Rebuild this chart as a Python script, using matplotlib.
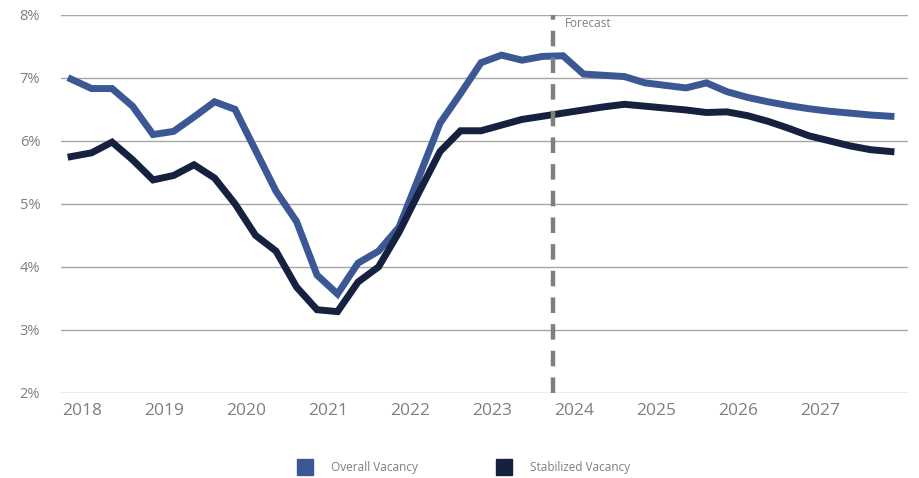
import numpy as np
import matplotlib.pyplot as plt
from matplotlib.lines import Line2D

# quarterly series, 2018 Q1 .. 2028 Q1
overall = [6.98, 6.83, 6.83, 6.55, 6.10, 6.15, 6.38, 6.62, 6.50, 5.85,
           5.20, 4.72, 3.87, 3.57, 4.06, 4.25, 4.63, 5.45, 6.28, 6.75,
           7.24, 7.36, 7.28, 7.34, 7.35, 7.06, 7.04, 7.02, 6.92, 6.88,
           6.84, 6.92, 6.78, 6.69, 6.62, 6.56, 6.51, 6.47, 6.44, 6.41, 6.39]
stabilized = [5.75, 5.81, 5.98, 5.70, 5.38, 5.45, 5.62, 5.41, 5.00, 4.50,
              4.25, 3.68, 3.32, 3.29, 3.76, 4.00, 4.55, 5.20, 5.83, 6.16,
              6.16, 6.25, 6.34, 6.39, 6.44, 6.49, 6.54, 6.58, 6.55, 6.52,
              6.49, 6.45, 6.46, 6.40, 6.31, 6.20, 6.08, 6.00, 5.92, 5.86, 5.83]
years = ['2018', '2019', '2020', '2021', '2022', '2023', '2024', '2025', '2026', '2027']
yticks = [2, 3, 4, 5, 6, 7, 8]
forecast_start = 23.5  # between 2023 Q4 and 2024 Q1

blue = '#3B5794'
navy = '#15213F'
grey = '#7f7f7f'

plt.rcParams['font.family'] = ['Open Sans', 'DejaVu Sans']

fig = plt.figure(figsize=(9.19, 4.78), dpi=100)
ax = fig.add_axes([0.0664, 0.178, 0.9216, 0.791])

x = np.arange(len(overall))
ax.plot(x, overall, color=blue, lw=5, solid_joinstyle='miter', zorder=3)
ax.plot(x, stabilized, color=navy, lw=5, solid_joinstyle='miter', zorder=3)

ax.axvline(forecast_start, color=grey, lw=3.2, dashes=(3.5, 2.5), zorder=4)
ax.text(forecast_start + 0.6, 7.87, 'Forecast', color=grey, fontsize=8.5,
        va='center', ha='left')

ax.set_ylim(2, 8)
ax.set_xlim(-0.49, 40.83)
ax.set_yticks(yticks)
ax.set_yticklabels([f'{v}%' for v in yticks], color=grey, fontsize=10.5)
ax.set_xticks(np.arange(len(years)) * 4 + 0.54)
ax.set_xticklabels(years, color=grey, fontsize=12.5)
ax.tick_params(length=0)
ax.tick_params(axis='y', pad=15)
ax.tick_params(axis='x', pad=7)
ax.grid(axis='y', color='#a6a6a6', lw=1)
ax.set_axisbelow(True)
for s in ax.spines.values():
    s.set_visible(False)

handles = [Line2D([], [], ls='none', marker='s', ms=11, color=blue),
           Line2D([], [], ls='none', marker='s', ms=11, color=navy)]
leg = fig.legend(handles, ['Overall Vacancy', 'Stabilized Vacancy'], ncol=2,
                 loc='center', bbox_to_anchor=(0.502, 0.021), frameon=False,
                 fontsize=8.5, columnspacing=6.3, handletextpad=1.2)
for t in leg.get_texts():
    t.set_color(grey)

fig.savefig('out.png', dpi=100)
